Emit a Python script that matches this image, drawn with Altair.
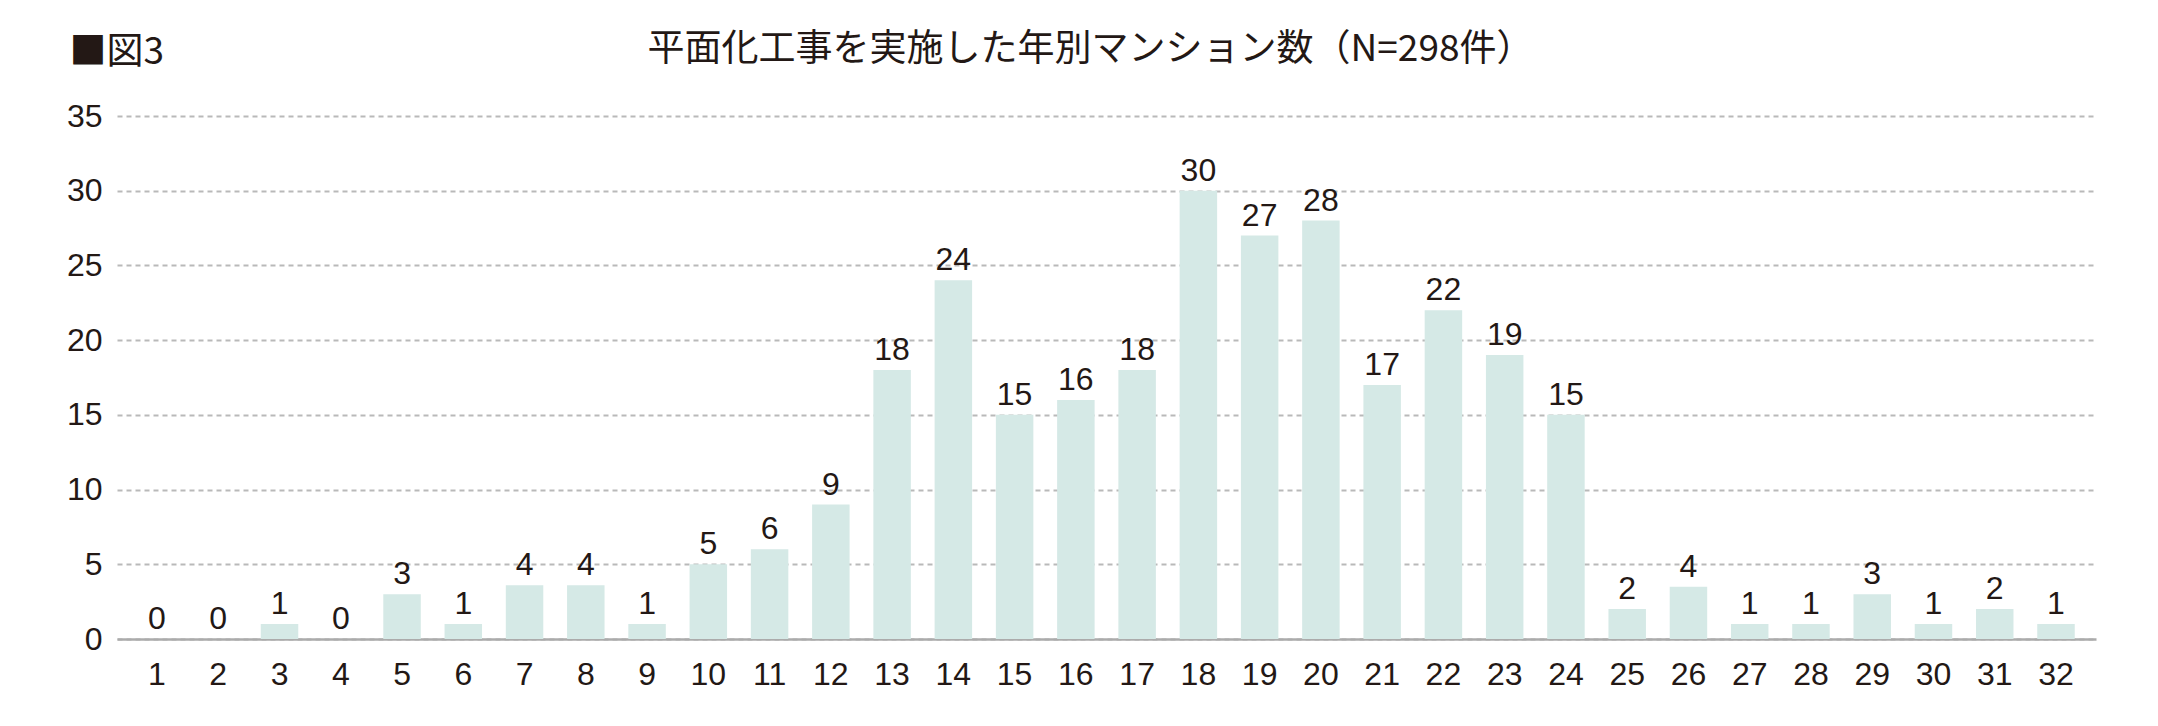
import altair as alt
import pandas as pd

# data
years = [str(i) for i in range(1, 33)]
heights = [0, 0, 1, 0, 3, 1, 3.6, 3.6, 1, 5, 6, 9, 18, 24, 15, 16,
           18, 30, 27, 28, 17, 22, 19, 15, 2, 3.5, 1, 1, 3, 1, 2, 1]
labels = ["0", "0", "1", "0", "3", "1", "4", "4", "1", "5", "6", "9", "18", "24", "15", "16",
          "18", "30", "27", "28", "17", "22", "19", "15", "2", "4", "1", "1", "3", "1", "2", "1"]
y_ticks = [0, 5, 10, 15, 20, 25, 30, 35]

title_text = "平面化工事を実施した年別マンション数（N=298件）"
fig_label = "■図3"

df = pd.DataFrame({"year": years, "count": heights, "label": labels})

TEXT = "#231815"
NUM_FONT = "Liberation Sans"
JP_FONT = "Noto Sans CJK JP"

x_enc = alt.X(
    "year:O",
    sort=years,
    scale=alt.Scale(paddingInner=0.388, paddingOuter=0.347),
    axis=alt.Axis(
        title=None, labelAngle=0, ticks=False, labelPadding=20,
        labelFont=NUM_FONT, labelFontSize=32, labelColor=TEXT,
        domainColor="#ababab", domainWidth=2.5, grid=False,
    ),
)

y_enc = alt.Y(
    "count:Q",
    scale=alt.Scale(domain=[0, 35], nice=False),
    axis=alt.Axis(
        values=y_ticks, title=fig_label, titleAngle=0, titleAlign="left",
        titleBaseline="middle", titleX=-48, titleY=-64,
        titleFont=JP_FONT, titleFontSize=37, titleFontWeight="normal", titleColor=TEXT,
        domain=False, ticks=False, labelPadding=15,
        labelFont=NUM_FONT, labelFontSize=32, labelColor=TEXT,
        grid=True, gridColor="#b9b9b9", gridDash=[5, 4], gridWidth=2,
    ),
)

bars = alt.Chart(df).mark_bar(color="#d5e9e6").encode(x=x_enc, y=y_enc)

text = alt.Chart(df).mark_text(
    baseline="alphabetic", dy=-10, font=NUM_FONT, fontSize=32, color=TEXT
).encode(x=x_enc, y=y_enc, text="label:N")

chart = alt.layer(
    bars, text, view=alt.ViewBackground(strokeWidth=0, strokeOpacity=0)
).properties(
    width=1979,
    height=523,
    padding={"left": 109, "top": 108, "right": 54, "bottom": 70},
    autosize=alt.AutoSizeParams(type="none"),
    title=alt.TitleParams(
        text=title_text, font=JP_FONT, fontSize=37, fontWeight="normal",
        color=TEXT, anchor="middle", frame="group", dx=-16, offset=-36,
    ),
).configure_view(strokeWidth=0, strokeOpacity=0).configure_axisX(grid=False).configure(background="white")

chart.save("out.html", embed_options={"renderer": "svg", "actions": False})
